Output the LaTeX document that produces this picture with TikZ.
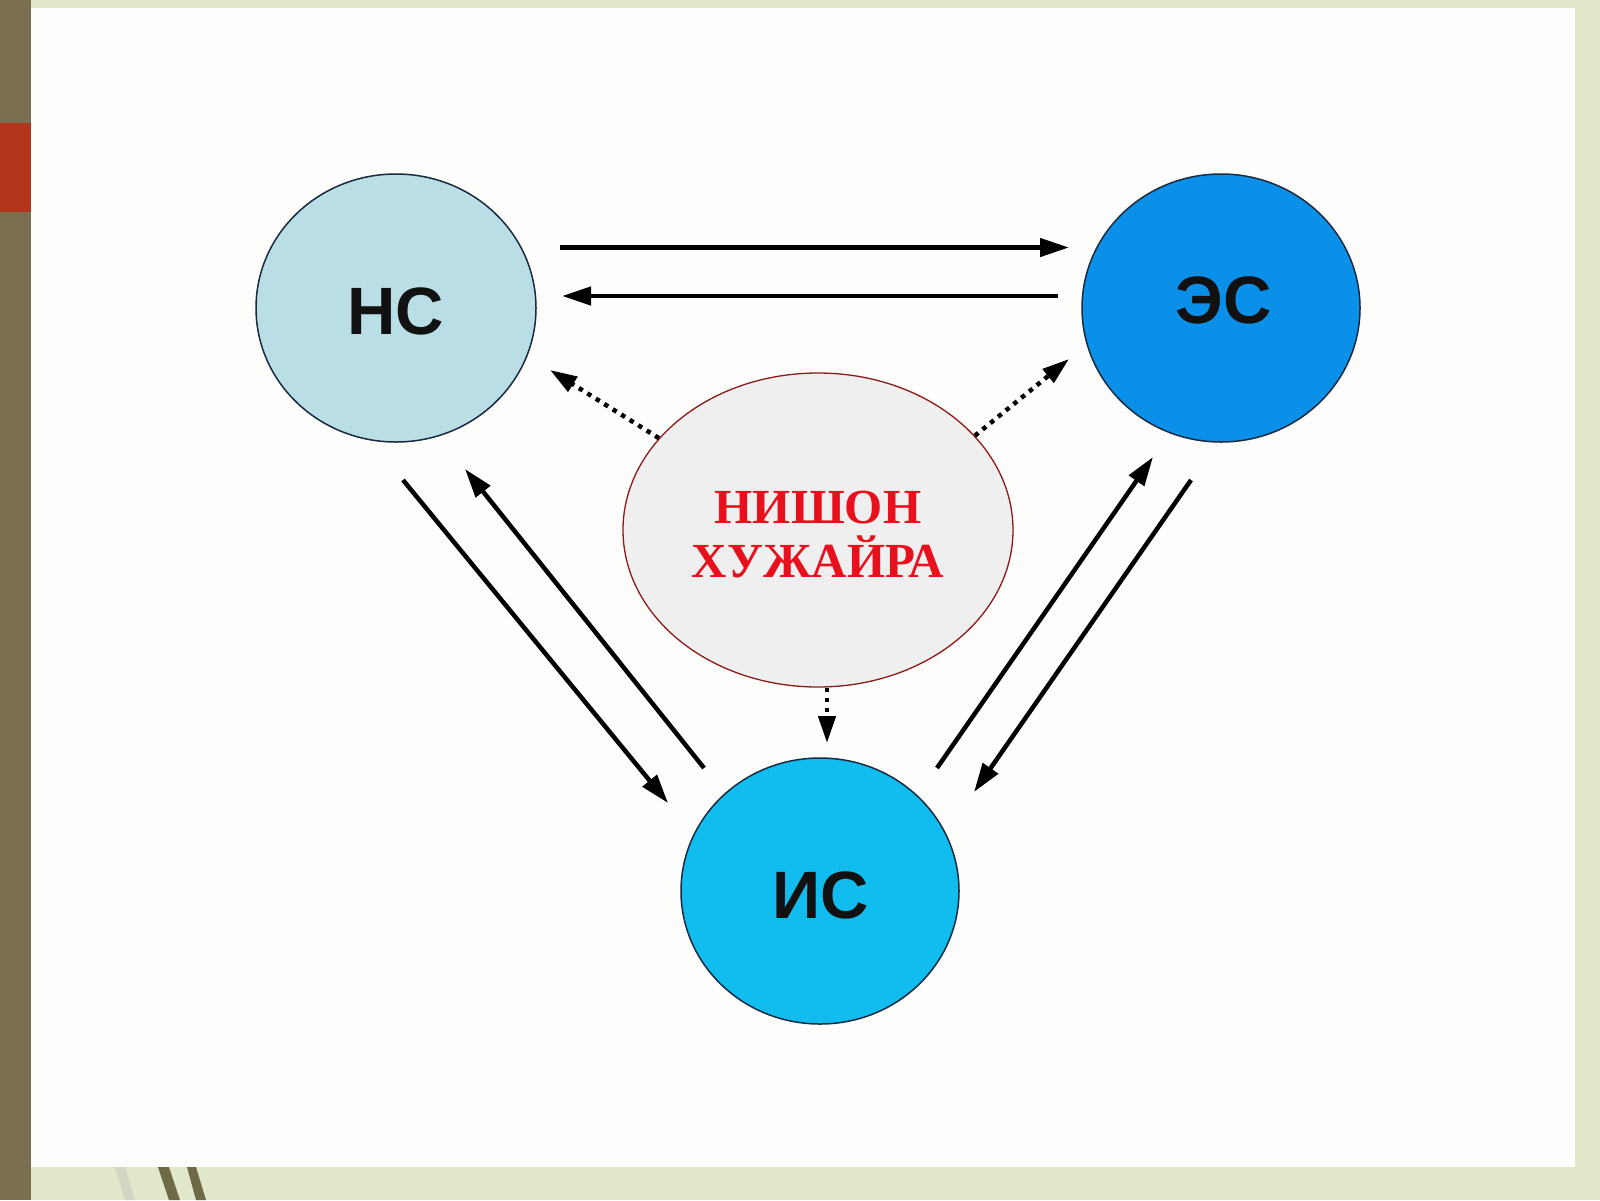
\documentclass[tikz,border=0pt]{standalone}
\usepackage{fontspec}
\setmainfont{Liberation Serif}
\newfontfamily\labfont{Liberation Sans}
\usetikzlibrary{arrows.meta,shapes.geometric}
\definecolor{bggreen}{HTML}{E1E7C9}
\definecolor{panelwhite}{HTML}{FDFEFB}
\definecolor{stripolive}{HTML}{7B6F52}
\definecolor{stripred}{HTML}{B5351C}
\definecolor{strokedark}{HTML}{6E6A48}
\definecolor{strokelight}{HTML}{D2D6C2}
\definecolor{nsfill}{HTML}{B9DEE6}
\definecolor{esfill}{HTML}{0A90E8}
\definecolor{isfill}{HTML}{10BDEE}
\definecolor{cfill}{HTML}{EFEFEF}
\definecolor{cborder}{HTML}{8B1A1A}
\definecolor{circborder}{HTML}{1A2A40}
\definecolor{labtext}{HTML}{111111}
\definecolor{redtext}{HTML}{E8101C}
\tikzset{
  circ/.style={ellipse, draw=circborder, line width=1.5pt, inner sep=0pt,
    text=labtext, font=\labfont\bfseries\fontsize{67}{80}\selectfont},
  centre/.style={ellipse, draw=cborder, fill=cfill, line width=1.3pt, inner sep=0pt},
  centretext/.style={align=center, text=redtext, font=\bfseries\fontsize{49}{54}\selectfont},
  solidarrow/.style={line width=4.5pt, -{Triangle[length=29pt,width=18pt]}},
  dotarrow/.style={line width=4.5pt, dash pattern=on 4.5pt off 5.5pt,
    -{Triangle[length=27pt,width=17pt]}}
}
\begin{document}
\begin{tikzpicture}[x=1pt,y=-1pt]
\useasboundingbox (0,0) rectangle (1600,1200);
% slide background
\fill[bggreen] (0,0) rectangle (1600,1200);
\fill[panelwhite] (31,8) rectangle (1575,1167);
\fill[stripolive] (0,0) rectangle (31,1200);
\fill[stripred] (0,123) rectangle (31,212);
\fill[strokelight] (115,1167) -- (125,1167) -- (135,1200) -- (125,1200) -- cycle;
\fill[strokedark] (158,1167) -- (169,1167) -- (180,1200) -- (169,1200) -- cycle;
\fill[strokedark] (187,1167) -- (196,1167) -- (206,1200) -- (196,1200) -- cycle;

% nodes
\node[circ, fill=nsfill, minimum width=280pt, minimum height=268pt] (ns) at (396,308) {};
\node[text=labtext, font=\labfont\bfseries\fontsize{67}{80}\selectfont] (nslab) at (396,311) {НС};
\node[circ, fill=esfill, minimum width=278pt, minimum height=268pt] (es) at (1221,308) {};
\node[text=labtext, font=\labfont\bfseries\fontsize{67}{80}\selectfont] (eslab) at (1224,300) {ЭС};
\node[circ, fill=isfill, minimum width=278pt, minimum height=266pt] (is) at (820,891) {};
\node[text=labtext, font=\labfont\bfseries\fontsize{67}{80}\selectfont] (islab) at (821,895) {ИС};
\node[centre, minimum width=390pt, minimum height=314pt] (goal) at (818,530) {};
\node[centretext] (goallab) at (818,535) {НИШОН\\ХУЖАЙРА};

% connector end points
\coordinate (t1s) at (560,247.5);  \coordinate (t1e) at (1069,247.5);
\coordinate (t2s) at (1058,296);   \coordinate (t2e) at (562,296);
\coordinate (l1s) at (403,480);    \coordinate (l1e) at (668,803);
\coordinate (l2s) at (704,768);    \coordinate (l2e) at (465,469);
\coordinate (r1s) at (937,768);    \coordinate (r1e) at (1153,457);
\coordinate (r2s) at (1191,480);   \coordinate (r2e) at (974,792);
\coordinate (dnw) at (550,370);
\coordinate (dne) at (1069,359);
\coordinate (dsd) at (827,743);

% connectors
\draw[solidarrow] (t1s) -- (t1e);
\draw[solidarrow] (t2s) -- (t2e);
\draw[solidarrow] (l1s) -- (l1e);
\draw[solidarrow] (l2s) -- (l2e);
\draw[solidarrow] (r1s) -- (r1e);
\draw[solidarrow] (r2s) -- (r2e);
\draw[dotarrow] (goal.150) -- (dnw);
\draw[dotarrow] (goal.31) -- (dne);
\draw[dotarrow] ([xshift=9pt]goal.south) -- (dsd);
\end{tikzpicture}
\end{document}
